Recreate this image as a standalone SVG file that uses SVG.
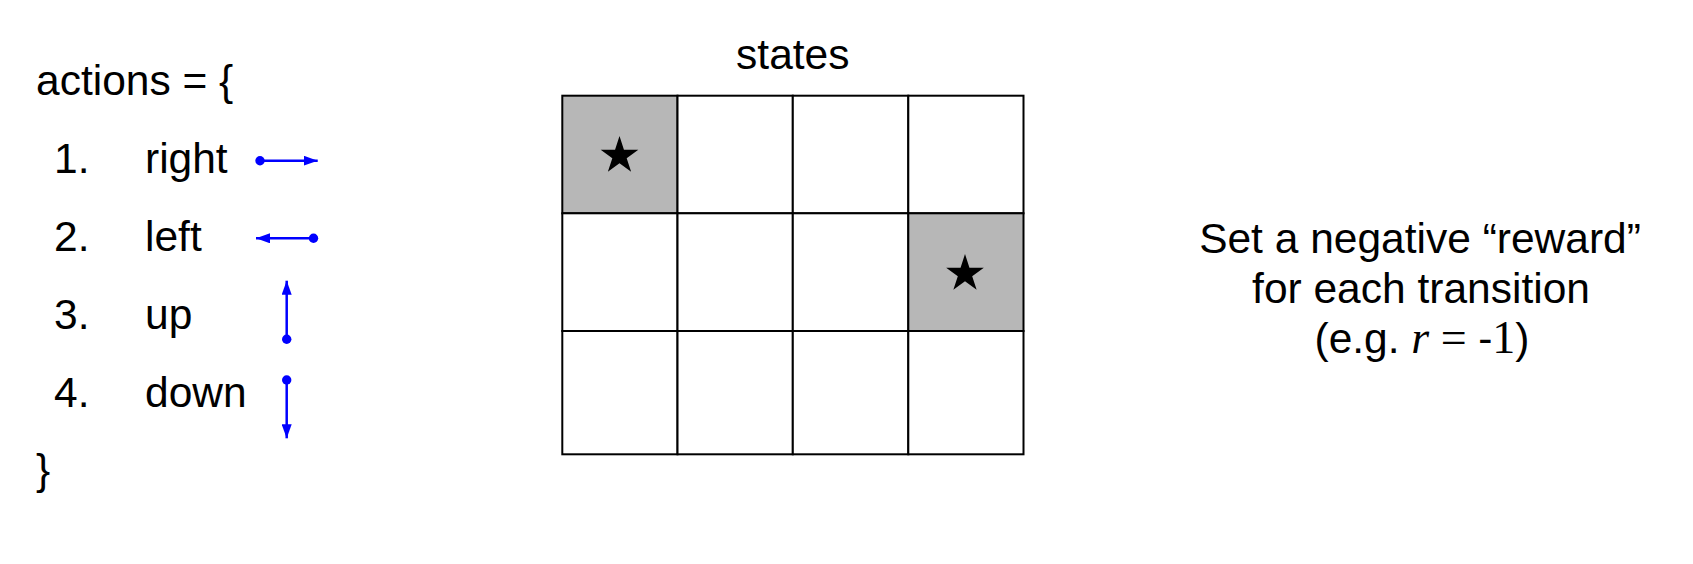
<svg xmlns="http://www.w3.org/2000/svg" width="1693" height="564" viewBox="0 0 1693 564">
<style>
.t{font-family:"Liberation Sans",Arial,sans-serif;font-size:42.5px;fill:#000}
.m{font-family:"Liberation Serif","Times New Roman",serif;font-size:46px}
.cell{fill:#fff;stroke:#000;stroke-width:2}
.goal{fill:#b7b7b7;stroke:#000;stroke-width:2}
.arr{stroke:#0000ff;stroke-width:2.5;fill:none;marker-start:url(#dot);marker-end:url(#head)}
</style>
<defs>
<marker id="head" markerUnits="userSpaceOnUse" markerWidth="14" markerHeight="10" refX="14" refY="5" orient="auto" viewBox="0 0 14 10"><path d="M0,0 L14,5 L0,10 z" fill="#0000ff"/></marker>
<marker id="dot" markerUnits="userSpaceOnUse" markerWidth="10" markerHeight="10" refX="5" refY="5" orient="auto" viewBox="0 0 10 10"><circle cx="5" cy="5" r="4.7" fill="#0000ff"/></marker>
<path id="star" d="M0,-19.8 L4.45,-6.12 L18.83,-6.12 L7.19,2.34 L11.64,16.02 L0,7.56 L-11.64,16.02 L-7.19,2.34 L-18.83,-6.12 L-4.45,-6.12 Z" fill="#000"/>
</defs>
<rect width="1693" height="564" fill="#fff"/>
<g id="actions">
<text class="t" x="36" y="95">actions = {</text>
<text class="t" x="54" y="173">1.</text><text class="t" x="145" y="173">right</text>
<text class="t" x="54" y="251">2.</text><text class="t" x="145" y="251">left</text>
<text class="t" x="54" y="328.5">3.</text><text class="t" x="145" y="328.5">up</text>
<text class="t" x="54" y="406.5">4.</text><text class="t" x="145" y="406.5">down</text>
<text class="t" x="36" y="484">}</text>
</g>
<g id="connectors">
<line class="arr" x1="260" y1="160.7" x2="317.7" y2="160.7"/>
<line class="arr" x1="313.5" y1="238.3" x2="256" y2="238.3"/>
<line class="arr" x1="286.7" y1="339.2" x2="286.7" y2="280.7"/>
<line class="arr" x1="286.7" y1="380" x2="286.7" y2="438.3"/>
</g>
<g id="states-label"><text class="t" x="792.8" y="69.3" text-anchor="middle">states</text></g>
<g id="grid">
<rect class="goal" x="562.3" y="95.7" width="115.2" height="117.6"/>
<rect class="cell" x="677.5" y="95.7" width="115.3" height="117.6"/>
<rect class="cell" x="792.8" y="95.7" width="115.5" height="117.6"/>
<rect class="cell" x="908.3" y="95.7" width="115.2" height="117.6"/>
<rect class="cell" x="562.3" y="213.3" width="115.2" height="117.7"/>
<rect class="cell" x="677.5" y="213.3" width="115.3" height="117.7"/>
<rect class="cell" x="792.8" y="213.3" width="115.5" height="117.7"/>
<rect class="goal" x="908.3" y="213.3" width="115.2" height="117.7"/>
<rect class="cell" x="562.3" y="331" width="115.2" height="123.3"/>
<rect class="cell" x="677.5" y="331" width="115.3" height="123.3"/>
<rect class="cell" x="792.8" y="331" width="115.5" height="123.3"/>
<rect class="cell" x="908.3" y="331" width="115.2" height="123.3"/>
<use href="#star" x="619.5" y="155.8"/>
<use href="#star" x="965" y="273.8"/>
</g>
<g id="reward-note">
<text class="t" x="1420" y="253.3" text-anchor="middle">Set a negative “reward”</text>
<text class="t" x="1421" y="302.7" text-anchor="middle">for each transition</text>
<text class="t" x="1422" y="353" text-anchor="middle">(e.g. <tspan class="m" font-style="italic">r</tspan><tspan class="m"> = </tspan>-<tspan class="m">1</tspan>)</text>
</g>
</svg>
